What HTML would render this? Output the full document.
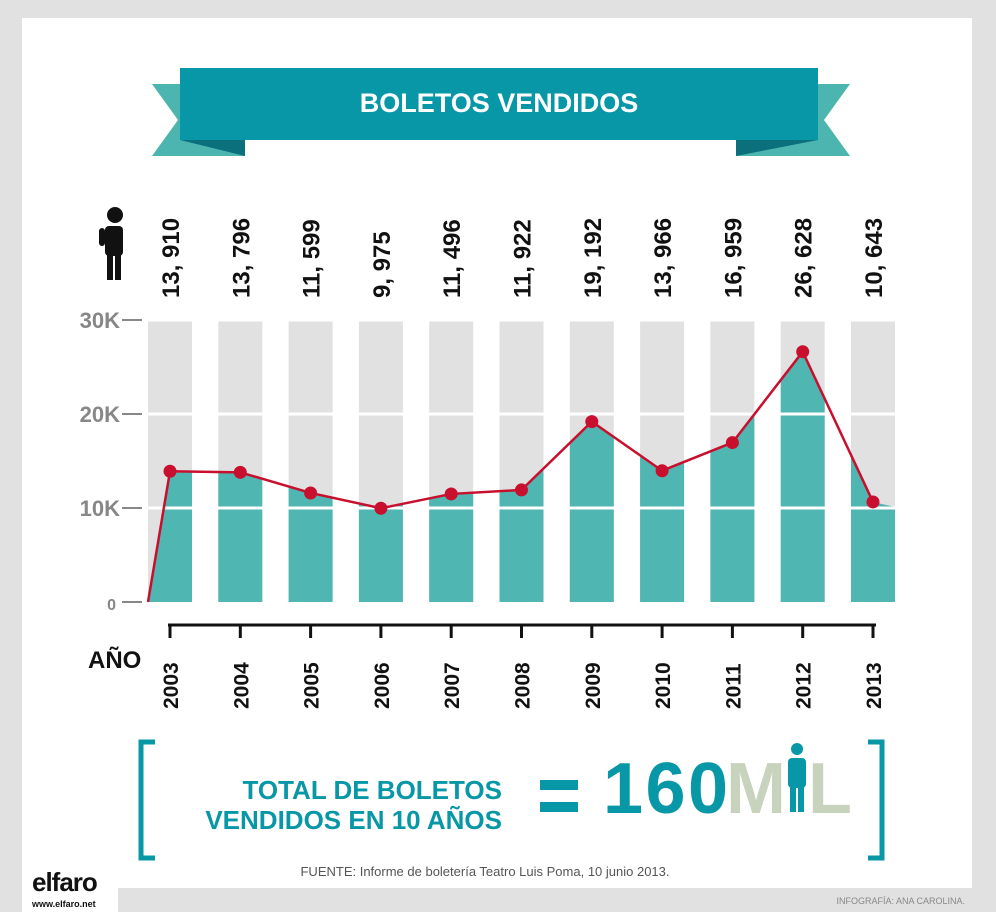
<!DOCTYPE html>
<html><head><meta charset="utf-8"><style>
body{margin:0;width:996px;height:912px;background:#e1e1e1;overflow:hidden;font-family:"Liberation Sans",sans-serif}
svg{display:block}
</style></head><body>
<svg width="996" height="912">
<rect x="22" y="18" width="950" height="870" fill="#fff"/>
<g>
<polygon points="152,84 245,84 245,156 152,156 178,120" fill="#4db5b0"/>
<polygon points="850,84 736,84 736,156 850,156 824,120" fill="#4db5b0"/>
<polygon points="180,140 245,140 245,156" fill="#0b6f7c"/>
<polygon points="818,140 736,140 736,156" fill="#0b6f7c"/>
<rect x="180" y="68" width="638" height="72" fill="#0897a6"/>
<text x="499" y="112" text-anchor="middle" font-size="27" font-weight="bold" fill="#fff">BOLETOS VENDIDOS</text>
</g>
<g id="person" fill="#111">
<circle cx="115" cy="215" r="8"/>
<rect x="105" y="226" width="18" height="30" rx="4"/>
<rect x="107" y="252" width="6" height="28"/><rect x="115" y="252" width="6" height="28"/>
<rect x="99" y="228" width="6" height="18" rx="3"/>
</g>
<g id="chart"></g>
<g>
<path d="M155,742 H141 V858 H155" fill="none" stroke="#0897a6" stroke-width="5"/>
<path d="M868,742 H882 V858 H868" fill="none" stroke="#0897a6" stroke-width="5"/>
<text x="502" y="799" text-anchor="end" font-size="26" font-weight="bold" fill="#0897a6">TOTAL DE BOLETOS</text>
<text x="502" y="829" text-anchor="end" font-size="26" font-weight="bold" fill="#0897a6">VENDIDOS EN 10 AÑOS</text>
<rect x="540" y="780" width="38" height="10" fill="#0897a6"/><rect x="540" y="802" width="38" height="10" fill="#0897a6"/>
<text x="603" y="813" font-size="72" font-weight="bold" fill="#0897a6" letter-spacing="-3" textLength="122">160</text>
<text x="726" y="813" font-size="72" font-weight="bold" fill="#c8d3bd">M</text>
<text x="808" y="813" font-size="72" font-weight="bold" fill="#c8d3bd">L</text>
<g fill="#0897a6"><circle cx="797" cy="749" r="6"/><rect x="788" y="758" width="18" height="30" rx="4"/><rect x="790" y="786" width="6" height="26"/><rect x="798" y="786" width="6" height="26"/></g>
</g>
<text x="485" y="876" text-anchor="middle" font-size="13" fill="#555">FUENTE: Informe de boletería Teatro Luis Poma, 10 junio 2013.</text>
<rect x="22" y="858" width="96" height="54" fill="#fff"/>
<text x="32" y="891" font-size="26" font-weight="bold" fill="#111" letter-spacing="-1">elfaro</text>
<text x="32" y="907" font-size="9" font-weight="bold" fill="#111">www.elfaro.net</text>
<text x="965" y="904" text-anchor="end" font-size="9" fill="#888">INFOGRAFÍA: ANA CAROLINA.</text>
</svg>
<script>
const years=["2003","2004","2005","2006","2007","2008","2009","2010","2011","2012","2013"];
const values=[13910,13796,11599,9975,11496,11922,19192,13966,16959,26628,10643];
const valueLabels=["13, 910","13, 796","11, 599","9, 975","11, 496","11, 922","19, 192","13, 966","16, 959","26, 628","10, 643"];
const yTicks=[0,10000,20000,30000];
const yTickLabels=["0","10K","20K","30K"];
const NS="http://www.w3.org/2000/svg";
const g=document.getElementById('chart');
const x=i=>170+i*70.3, y=v=>602-v*282/30000, bw=44;
function mk(t,a,p){const e=document.createElementNS(NS,t);for(const k in a)e.setAttribute(k,a[k]);(p||g).appendChild(e);return e;}
const defs=mk('defs',{});const cp=mk('clipPath',{id:'bars'},defs);
years.forEach((yr,i)=>{
 const r=mk('rect',{x:x(i)-bw/2,y:y(30000),width:bw,height:y(0)-y(30000),fill:'#e1e1e1'});
 
 
 mk('rect',{x:x(i)-bw/2,y:y(30000),width:bw,height:y(0)-y(30000)},cp);
});
let pts=[[x(0)-bw/2,y(0)]];values.forEach((v,i)=>pts.push([x(i),y(v)]));
const last=values[values.length-1];
const area=mk('polygon',{points:pts.map(p=>p.join(',')).join(' ')+' '+(x(10)+bw/2)+','+y(last*0.95)+' '+(x(10)+bw/2)+','+y(0),fill:'#4fb6b1','clip-path':'url(#bars)'});


yTicks.forEach((t,i)=>{
 if(t>0){const l=mk('line',{x1:140,x2:900,y1:y(t),y2:y(t),stroke:'#fff','stroke-width':3});
 
 }
 const d=mk('line',{x1:122,x2:142,y1:y(t),y2:y(t),stroke:'#888','stroke-width':2});
 
 
 const tx=mk('text',{x:t?120:116,y:y(t)+8,'text-anchor':'end','font-size':t?22:16,'font-weight':'bold',fill:'#878787'});
 tx.textContent=yTickLabels[i];
 
 
});
const line=mk('polyline',{points:pts.map(p=>p.join(',')).join(' '),fill:'none',stroke:'#c8102e','stroke-width':2.5});


values.forEach((v,i)=>{
 const c=mk('circle',{cx:x(i),cy:y(v),r:6.5,fill:'#c8102e'});
 
 
 const t=mk('text',{transform:`translate(${x(i)+9},298) rotate(-90)`,'font-size':24,'font-weight':'bold',fill:'#111'});
 t.textContent=valueLabels[i];
 
 
 const tk=mk('line',{x1:x(i),x2:x(i),y1:625,y2:638,stroke:'#111','stroke-width':3});
 
 
 const yl=mk('text',{transform:`translate(${x(i)+8},709) rotate(-90)`,'font-size':21,'font-weight':'bold',fill:'#111'});
 yl.textContent=years[i];
 
 
});
const ax=mk('line',{x1:168,x2:876,y1:625,y2:625,stroke:'#111','stroke-width':3});


const an=mk('text',{x:88,y:668,'font-size':24,'font-weight':'bold',fill:'#111'});
an.textContent='AÑO';


</script>
</body></html>
